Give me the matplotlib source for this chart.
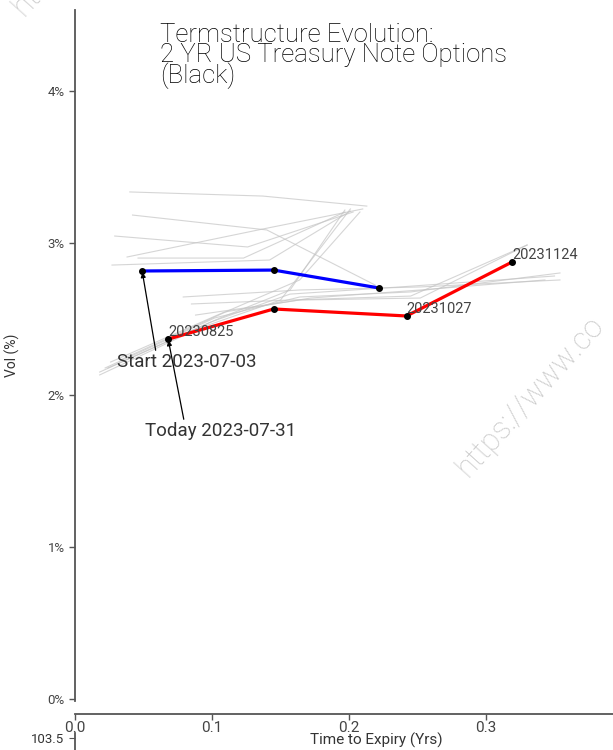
import numpy as np
import matplotlib.pyplot as plt
from matplotlib.ticker import FuncFormatter

plt.rcParams['font.family'] = ['Roboto', 'DejaVu Sans']

# term structure on start date (2023-07-03)
start_t = [0.049, 0.145, 0.222]
start_vol = [2.816, 2.822, 2.704]

# term structure today (2023-07-31)
today_t = [0.068, 0.145, 0.242, 0.319]
today_vol = [2.368, 2.566, 2.520, 2.875]
today_expiries = ['20230825', '', '20231027', '20231124']

# intermediate days (gray)
hist_t = [
    [0.040, 0.137, 0.213],
    [0.042, 0.140, 0.219],
    [0.029, 0.126, 0.203],
    [0.038, 0.137, 0.210],
    [0.046, 0.123, 0.197],
    [0.027, 0.142, 0.201],
    [0.018, 0.099, 0.157, 0.237, 0.350],
    [0.022, 0.102, 0.164, 0.245, 0.354],
    [0.026, 0.109, 0.172, 0.252, 0.343],
    [0.079, 0.164, 0.252, 0.354],
    [0.085, 0.157, 0.245, 0.330],
    [0.088, 0.164, 0.252, 0.330],
    [0.018, 0.091, 0.150, 0.201],
    [0.024, 0.106, 0.157, 0.197],
    [0.033, 0.113, 0.164, 0.208],
]
hist_vol = [
    [3.336, 3.309, 3.243],
    [3.184, 3.086, 2.724],
    [3.046, 2.974, 3.204],
    [2.908, 3.092, 3.224],
    [2.901, 2.901, 3.204],
    [2.855, 2.888, 3.210],
    [2.151, 2.480, 2.664, 2.711, 2.783],
    [2.178, 2.507, 2.645, 2.678, 2.803],
    [2.217, 2.546, 2.638, 2.691, 2.757],
    [2.645, 2.691, 2.711, 2.757],
    [2.599, 2.625, 2.651, 2.987],
    [2.526, 2.625, 2.638, 2.987],
    [2.132, 2.441, 2.625, 3.224],
    [2.178, 2.507, 2.691, 3.217],
    [2.230, 2.559, 2.757, 3.204],
]

fig = plt.figure(figsize=(6.13, 7.5), dpi=100)
# axes runs past the right edge of the figure, like the original
ax = fig.add_axes([75/613, 1 - 701/750, (677 - 75)/613, (701 - 10)/750])

for xs, ys in zip(hist_t, hist_vol):
    ax.plot(xs, ys, color='#c4c4c4', lw=0.8, alpha=0.7, zorder=1)

ax.plot(start_t, start_vol, color='blue', lw=2.3, zorder=3)
ax.plot(start_t, start_vol, 'o', color='black', ms=4, zorder=4)
ax.plot(today_t, today_vol, color='red', lw=2.3, zorder=3)
ax.plot(today_t, today_vol, 'o', color='black', ms=4, zorder=4)

for t, v, lab in zip(today_t, today_vol, today_expiries):
    if lab:
        ax.text(t, v, lab, ha='left', va='bottom', fontsize=10.5, color='#444444', zorder=5)

ax.annotate('Start 2023-07-03', xy=(start_t[0], start_vol[0]), xytext=(0.0307, 2.217),
            ha='left', va='center', fontsize=13.5, color='#333333',
            arrowprops=dict(arrowstyle='-|>', color='black', lw=0.9, mutation_scale=7,
                            relpos=(0.28, 1), shrinkA=0, shrinkB=1))
ax.annotate('Today 2023-07-31', xy=(today_t[0], today_vol[0]), xytext=(0.0511, 1.763),
            ha='left', va='center', fontsize=13.5, color='#333333',
            arrowprops=dict(arrowstyle='-|>', color='black', lw=0.9, mutation_scale=7,
                            relpos=(0.26, 1), shrinkA=0, shrinkB=1))

ax.set_xlim(0, 0.4394)
ax.set_ylim(-0.013, 4.533)
ax.set_yticks([0, 1, 2, 3, 4])
ax.yaxis.set_major_formatter(FuncFormatter(lambda v, p: f'{v:.0f}%'))
ax.set_xticks([0.0, 0.1, 0.2, 0.3])
ax.xaxis.set_major_formatter(FuncFormatter(lambda v, p: f'{v:.1f}'))

for s in ['top', 'right']:
    ax.spines[s].set_visible(False)
ax.spines['bottom'].set_position(('outward', 9.7))
for s in ['left', 'bottom']:
    ax.spines[s].set_color('#555555')
    ax.spines[s].set_linewidth(1.3)
ax.tick_params(axis='both', colors='#555555', length=4, width=1, labelcolor='#444444')
ax.tick_params(axis='y', labelsize=9.5)
ax.tick_params(axis='x', labelsize=11, pad=1)

ax.set_ylabel('Vol (%)', fontsize=10, labelpad=20, color='#333333')
ax.set_xlabel('Time to Expiry (Yrs)', fontsize=11, labelpad=-2, color='#333333')

fig.text(160/613, 1 - 23/750, 'Termstructure Evolution:\n2 YR US Treasury Note Options\n(Black)',
         ha='left', va='top', fontsize=18.5, fontweight='light', linespacing=0.78,
         color='black')

# second panel peeking from the bottom
ax2 = fig.add_axes([75/613, 0, 1 - 75/613, 17/750])
ax2.set_ylim(102.79, 103.79)
ax2.set_yticks([103.5])
ax2.set_xticks([])
ax2.patch.set_alpha(0)
for s in ['top', 'right', 'bottom']:
    ax2.spines[s].set_visible(False)
ax2.spines['left'].set_color('#555555')
ax2.spines['left'].set_linewidth(1.3)
ax2.tick_params(axis='y', colors='#555555', length=4, labelsize=9.5, labelcolor='#333333')

# watermark
fig.text(468, 272, 'https://www.co', transform=None, fontsize=22, color='#c8c8c8',
         rotation=48, ha='left', va='baseline', rotation_mode='anchor', fontweight='light')
fig.text(24, 733, 'https://www.co', transform=None, fontsize=22, color='#c8c8c8',
         rotation=48, ha='left', va='baseline', rotation_mode='anchor', fontweight='light')

fig.savefig('out.png', dpi=100)
